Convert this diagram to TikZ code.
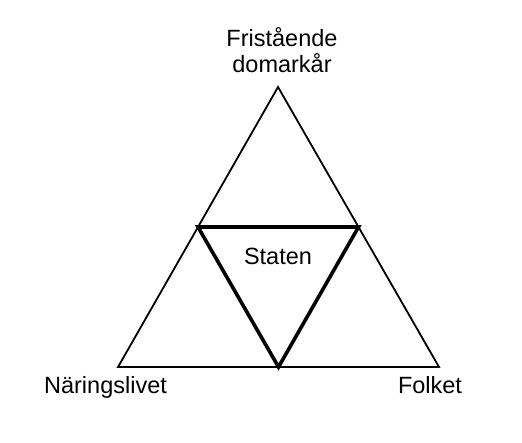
\documentclass[tikz,border=0pt]{standalone}
\usepackage{fontspec}
\setmainfont{Liberation Sans}
\usetikzlibrary{calc}
\begin{document}
\begin{tikzpicture}[x=1pt,y=1pt,
  lbl/.style={anchor=base,inner sep=0pt,font=\fontsize{23.5}{27}\selectfont},
  outer/.style={line width=1.8pt,line join=miter},
  inner/.style={line width=3.6pt,line join=miter}]
\useasboundingbox (0,0) rectangle (522,442);
\coordinate (A) at (278,355);
\coordinate (BL) at (118,75);
\coordinate (BR) at (439,75);
\coordinate (P) at ($(A)!0.5!(BL)$);
\coordinate (Q) at ($(A)!0.5!(BR)$);
\coordinate (R) at ($(BL)!0.5!(BR)$);
\draw[outer] (A) -- (BL) -- (BR) -- cycle;
\draw[inner] (P) -- (Q) -- (R) -- cycle;
\node[lbl] (top1) at (282,395) {Fristående};
\node[lbl] (top2) at (282,369) {domarkår};
\node[lbl] (staten) at (278,177) {Staten};
\node[lbl] (naring) at (105.5,49) {Näringslivet};
\node[lbl] (folket) at (430,49) {Folket};
\end{tikzpicture}
\end{document}
